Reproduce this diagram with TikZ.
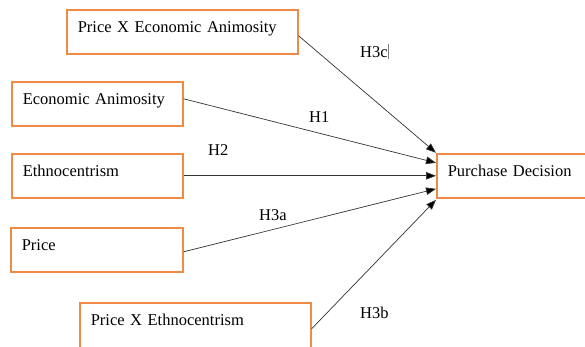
\documentclass[tikz,border=0pt]{standalone}
\usepackage{fontspec}
\setmainfont{Liberation Serif}
\usetikzlibrary{arrows.meta}
\definecolor{boxorange}{HTML}{F08A45}
\definecolor{linegray}{HTML}{333333}
\begin{document}
\begin{tikzpicture}[x=1pt,y=-1pt,
  every node/.style={font=\fontsize{16.5}{20}\selectfont},
  factor/.style={draw=boxorange,line width=1.6pt,anchor=north west,inner xsep=11pt,inner ysep=0pt,text height=22.5pt,text depth=21.5pt,align=left},
  hyp/.style={anchor=base west,inner sep=0},
  path/.style={draw=linegray,line width=0.7pt,-{Triangle[length=10pt,width=7.5pt,fill=black]}}]
\useasboundingbox (0,0) rectangle (585,346);

\node [factor,text width=209pt] (pxa) at (66,9) {Price X Economic Animosity};
\node [factor,text width=149pt] (ea) at (11,81) {Economic Animosity};
\node [factor,text width=149pt] (eth) at (11,153) {Ethnocentrism};
\node [factor,text width=150pt] (pr) at (10,227) {Price};
\node [factor,text width=209pt,text depth=23.5pt] (pxe) at (79,302) {Price X Ethnocentrism};
\node [factor,text width=140pt] (pd) at (436,153) {Purchase Decision};

\node [hyp] (h3c) at (360,57) {H3c\textcolor{gray}{\rule[-2pt]{0.5pt}{15pt}}};
\node [hyp] (h1) at (309,122) {H1};
\node [hyp] (h2) at (208,155) {H2};
\node [hyp] (h3a) at (259,220) {H3a};
\node [hyp] (h3b) at (360,318) {H3b};

\draw [path] ([yshift=-4pt]pxa.east) -- ([yshift=23pt]pd.west);
\draw [path] ([yshift=5pt]ea.east) -- ([yshift=13pt]pd.west);
\draw [path] (eth.east) -- (pd.west);
\draw [path] ([yshift=-2pt]pr.east) -- ([yshift=-13pt]pd.west);
\draw [path] ([yshift=-3pt]pxe.east) -- ([yshift=-24pt]pd.west);
\end{tikzpicture}
\end{document}
